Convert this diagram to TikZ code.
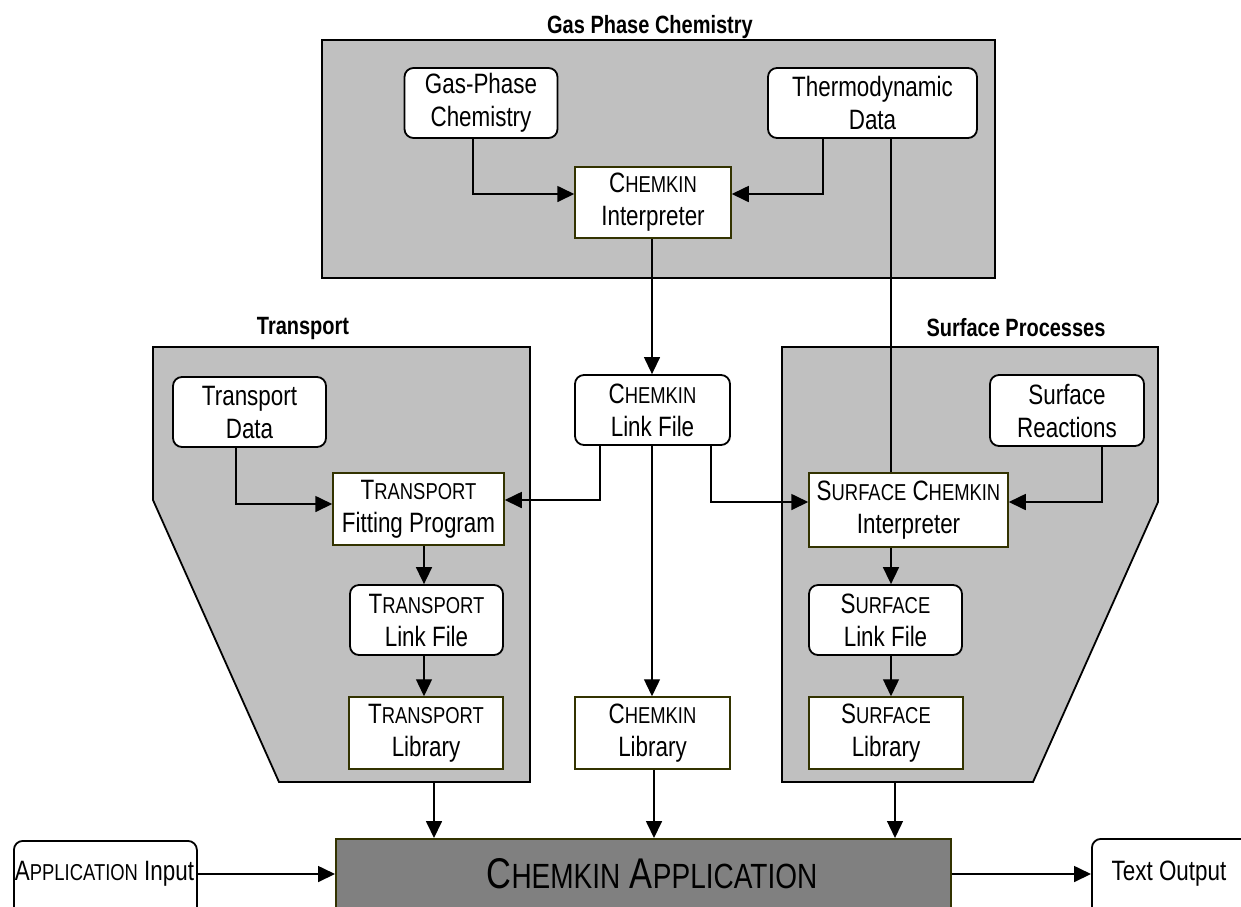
\documentclass[tikz,border=0pt]{standalone}
\usepackage{fontspec}
\setmainfont{Liberation Sans}[FakeStretch=0.8]
\usetikzlibrary{arrows.meta}
\definecolor{contgray}{RGB}{192,192,192}
\definecolor{appgray}{RGB}{128,128,128}
\definecolor{boxedge}{RGB}{51,51,0}
\newcommand\smc[1]{{\fontsize{23}{23}\selectfont #1}}
\newcommand\smcl[1]{{\fontsize{35}{35}\selectfont #1}}
\begin{document}
\begin{tikzpicture}[x=1pt,y=-1pt,
  rnode/.style={draw=black, line width=1.8pt, fill=white, rounded corners=9pt, inner sep=0pt, align=center, font=\fontsize{28}{33}\selectfont},
  snode/.style={draw=boxedge, line width=1.5pt, fill=white, inner sep=0pt, align=center, font=\fontsize{28}{33}\selectfont},
  cont/.style={draw=black, line width=1.8pt, fill=contgray},
  titletext/.style={font=\bfseries\fontsize{25}{25}\selectfont, inner sep=0pt},
  arr/.style={line width=1.7pt, -{Triangle[length=17pt,width=16pt]}},
  thinline/.style={line width=1.2pt},
  medline/.style={line width=1.3pt}]
\useasboundingbox (0,0) rectangle (1241,906);
\clip (0,0) rectangle (1241,906);
% containers
\draw[cont] (322,40) rectangle (995,278);
\draw[cont] (153,347) -- (530,347) -- (530,782) -- (279,782) -- (153,500) -- cycle;
\draw[cont] (782,347) -- (1158,347) -- (1158,502) -- (1033,782) -- (782,782) -- cycle;
\coordinate (trbot) at (434,782);
\coordinate (sfbot) at (895,782);
% titles
\node[titletext] (gastitle) at (650,27) {Gas Phase Chemistry};
\node[titletext] (trtitle) at (303,328) {Transport};
\node[titletext] (sftitle) at (1016,328) {Surface Processes};
% nodes
\node[rnode, minimum width=153pt, minimum height=70pt] (gpc) at (481,103) {Gas-Phase\\Chemistry};
\node[rnode, minimum width=209pt, minimum height=70pt] (thermo) at (872.5,103) {Thermodynamic\\Data};
\node[snode, minimum width=156pt, minimum height=71pt] (cint) at (653,202.5) {C\smc{HEMKIN}\\Interpreter};
\node[rnode, minimum width=155pt, minimum height=70pt] (clink) at (652.5,410) {C\smc{HEMKIN}\\Link File};
\node[rnode, minimum width=153pt, minimum height=70pt] (trdata) at (249.5,412) {Transport\\Data};
\node[snode, minimum width=171pt, minimum height=72pt] (trfit) at (418.5,509) {T\smc{RANSPORT}\\Fitting Program};
\node[rnode, minimum width=153pt, minimum height=70pt] (trlink) at (426.5,620) {T\smc{RANSPORT}\\Link File};
\node[snode, minimum width=154pt, minimum height=72pt] (trlib) at (426,733) {T\smc{RANSPORT}\\Library};
\node[snode, minimum width=155pt, minimum height=72pt] (clib) at (652.5,733) {C\smc{HEMKIN}\\Library};
\node[rnode, minimum width=154pt, minimum height=71pt] (srx) at (1067,410.5) {Surface\\Reactions};
\node[snode, minimum width=199pt, minimum height=74pt] (sint) at (908.5,510) {S\smc{URFACE} C\smc{HEMKIN}\\Interpreter};
\node[rnode, minimum width=153pt, minimum height=70pt] (slink) at (885.5,620) {S\smc{URFACE}\\Link File};
\node[snode, minimum width=154pt, minimum height=72pt] (slib) at (886,733) {S\smc{URFACE}\\Library};
\node[rnode, minimum width=183pt, minimum height=76pt, anchor=north west] (appin) at (13,840) {};
\node[font=\fontsize{28}{33}\selectfont, inner sep=0pt] (appintext) at (104.5,874) {A\smc{PPLICATION} Input};
\node[snode, fill=appgray, minimum width=615pt, minimum height=78pt, anchor=north west] (app) at (335,838) {};
\node[font=\fontsize{43}{43}\selectfont, inner sep=0pt] (apptext) at (652,874) {C\smcl{HEMKIN} A\smcl{PPLICATION}};
\node[rnode, minimum width=170pt, minimum height=78pt, anchor=north west] (txtout) at (1091,838) {};
\node[font=\fontsize{28}{33}\selectfont, inner sep=0pt] (txtouttext) at (1169,874) {Text Output};
% helper coordinates
\coordinate (yA) at (0,194);
\coordinate (xGP) at (473,0);
\coordinate (xTA) at (823,0);
\coordinate (xTH) at (891,0);
\coordinate (xCL) at (652,0);
\coordinate (xCLl) at (600,0);
\coordinate (xCLr) at (711,0);
\coordinate (yTa) at (0,504);
\coordinate (yTb) at (0,500);
\coordinate (yS) at (0,502);
\coordinate (xTD) at (236,0);
\coordinate (xTR) at (424,0);
\coordinate (xSR) at (1102,0);
\coordinate (xCB) at (654,0);
\coordinate (yApp) at (0,874);
% connectors
\draw[arr] (gpc.south -| xGP) |- (cint.west |- yA);
\draw[arr] (thermo.south -| xTA) |- (cint.east |- yA);
\draw[thinline] (thermo.south -| xTH) -- (sint.north -| xTH);
\draw[arr, medline] (cint.south -| xCL) -- (clink.north -| xCL);
\draw[arr] (clink.south -| xCLl) |- (trfit.east |- yTb);
\draw[arr] (clink.south -| xCLr) |- (sint.west |- yS);
\draw[arr, medline] (clink.south -| xCL) -- (clib.north -| xCL);
\draw[arr] (trdata.south -| xTD) |- (trfit.west |- yTa);
\draw[arr] (srx.south -| xSR) |- (sint.east |- yS);
\draw[arr] (trfit.south -| xTR) -- (trlink.north -| xTR);
\draw[arr, medline] (trlink.south -| xTR) -- (trlib.north -| xTR);
\draw[arr] (sint.south -| xTH) -- (slink.north -| xTH);
\draw[arr, medline] (slink.south -| xTH) -- (slib.north -| xTH);
\draw[arr] (trbot) -- (app.north -| trbot);
\draw[arr] (clib.south -| xCB) -- (app.north -| xCB);
\draw[arr, medline] (sfbot) -- (app.north -| sfbot);
\draw[arr] (appin.east |- yApp) -- (app.west |- yApp);
\draw[arr] (app.east |- yApp) -- (txtout.west |- yApp);
\end{tikzpicture}
\end{document}
